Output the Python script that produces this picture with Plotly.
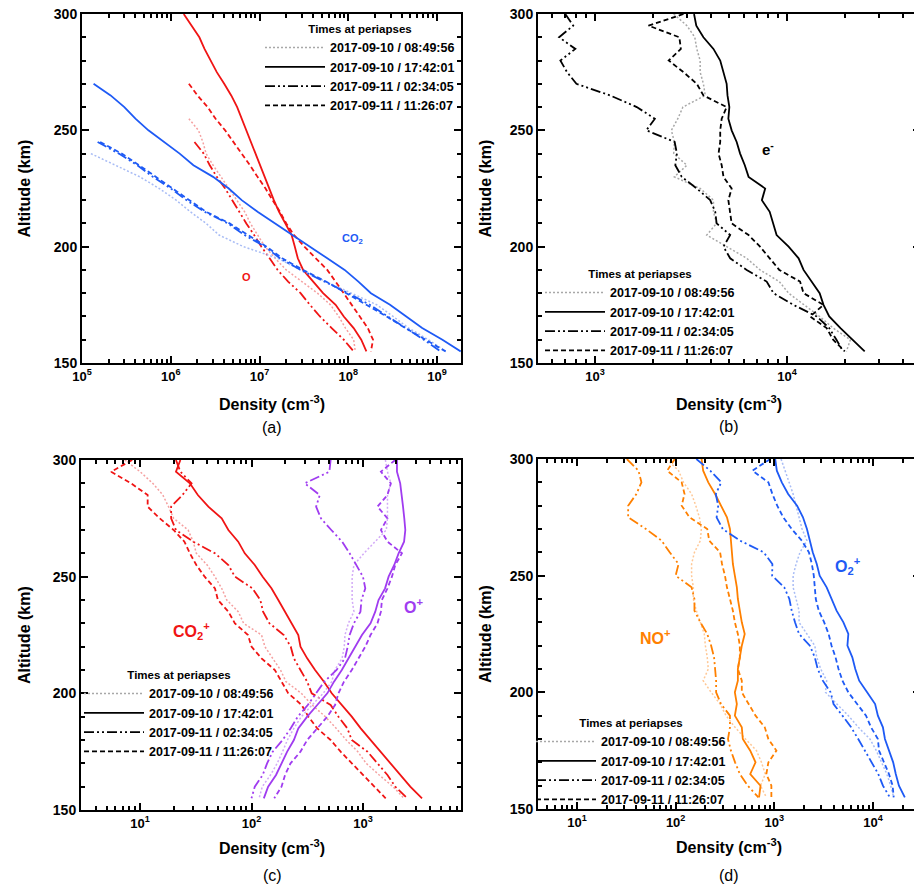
import plotly.graph_objects as go

# altitude grid (km), top to bottom
ALT = [300, 295, 290, 285, 280, 275, 270, 265, 260, 255, 250, 245, 240, 235, 230,
       225, 220, 215, 210, 205, 200, 195, 190, 185, 180, 175, 170, 165, 160, 155]

TIMES = ["2017-09-10 / 08:49:56", "2017-09-10 / 17:42:01",
         "2017-09-11 / 02:34:05", "2017-09-11 / 11:26:07"]

N = None
# (a) neutral densities, cm^-3
co2_0849 = [N, N, N, N, N, N, N, N, N, N, N, N, 1.26e5, 2.4e5, 4.5e5, 7.4e5, 1.15e6, 1.66e6,
            2.5e6, 3.5e6, 6.6e6, 1.6e7, 2.9e7, 5.6e7, 1.1e8, 2.1e8, 3.2e8, 4.8e8, 8.0e8, 1.25e9]
co2_1742 = [N, N, N, N, N, N, 1.35e5, 2.1e5, 3.0e5, 4.0e5, 5.6e5, 8.5e5, 1.26e6, 1.8e6, 3.0e6,
            4.5e6, 6.3e6, 9.5e6, 1.5e7, 2.4e7, 3.7e7, 5.8e7, 9.1e7, 1.3e8, 1.8e8, 2.95e8,
            4.5e8, 6.8e8, 1.15e9, 1.85e9]
co2_0234 = [N, N, N, N, N, N, N, N, N, N, N, 1.5e5, 2.6e5, 4.2e5, 6.3e5, 1.0e6, 1.5e6, 2.4e6,
            4.4e6, 6.8e6, 1.15e7, 1.7e7, 2.9e7, 5.4e7, 1.0e8, 1.75e8, 2.8e8, 4.5e8, 7.1e8, 1.1e9]
co2_1126 = [N, N, N, N, N, N, N, N, N, N, N, 1.6e5, 2.8e5, 4.4e5, 6.8e5, 1.05e6, 1.6e6, 2.5e6,
            4.6e6, 7.4e6, 1.2e7, 1.8e7, 3.1e7, 5.6e7, 9.5e7, 1.65e8, 2.7e8, 4.4e8, 7.4e8, 1.25e9]
o_0849 = [N, N, N, N, N, N, N, N, N, 1.6e6, 2.05e6, 2.3e6, 2.5e6, 3.0e6, 3.7e6, 4.5e6, 5.5e6,
          6.8e6, 7.9e6, 9.5e6, 1.15e7, 1.5e7, 2.0e7, 3.0e7, 4.5e7, 6.3e7, 7.8e7, 9.3e7, 1.15e8, 1.2e8]
o_1742 = [1.4e6, 1.7e6, 2.1e6, 2.4e6, 2.8e6, 3.3e6, 4.0e6, 4.8e6, 5.6e6, 6.3e6, 7.1e6, 8.1e6,
          9.1e6, 1.02e7, 1.15e7, 1.29e7, 1.45e7, 1.66e7, 1.95e7, 2.3e7, 2.5e7, 2.7e7, 3.1e7,
          4.0e7, 5.2e7, 7.2e7, 8.9e7, 1.15e8, 1.4e8, 1.6e8]
o_0234 = [N, N, N, N, N, N, N, N, N, N, N, 1.85e6, 2.35e6, 2.75e6, 3.3e6, 4.1e6, 4.9e6, 5.9e6,
          7.1e6, 8.7e6, 1.05e7, 1.3e7, 1.6e7, 2.1e7, 2.9e7, 3.7e7, 4.8e7, 6.5e7, 8.9e7, 1.15e8]
o_1126 = [N, N, N, N, N, N, 1.6e6, 2.0e6, 2.6e6, 3.2e6, 4.1e6, 5.1e6, 6.3e6, 7.8e6, 9.5e6,
          1.17e7, 1.4e7, 1.7e7, 2.0e7, 2.45e7, 3.2e7, 4.3e7, 5.8e7, 7.2e7, 8.9e7, 1.1e8, 1.35e8,
          1.66e8, 1.9e8, 1.8e8]

# (b) electrons
e_0849 = [2570, 3010, 3310, 3390, 3530, 3530, 3670, 3750, 2870, 2700, 2500, 2590, 2570, 3010,
          2590, 3530, 4140, 4140, 4300, 3820, 4850, 6170, 7240, 9120, 10200, 12200, 14800,
          17400, 21400, 20400]
e_1742 = [3280, 3370, 3670, 4140, 4490, 4670, 4850, 4900, 5010, 4950, 5150, 5470, 5700, 6030,
          6310, 7700, 7400, 8130, 8510, 8830, 10200, 11500, 12200, 13400, 14800, 15500, 16600,
          19000, 22100, 25400]
e_0234 = [700, 770, 650, 790, 660, 715, 800, 1200, 1650, 2050, 1850, 2600, 2670, 2620, 2830,
          3390, 3980, 4230, 4300, 5060, 4670, 5060, 6170, 7840, 8510, 10800, 14300, 16600,
          18100, 19600]
e_1126 = [2890, 1900, 2750, 2800, 2420, 2890, 3390, 3670, 4850, 4570, 4490, 4490, 4400, 4570,
          4670, 5150, 4950, 5050, 5150, 6310, 7240, 8130, 9120, 11700, 12200, 15500, 13200,
          16100, 17400, 20000]

# (c) CO2+ and O+
co2p_0849 = [7.3, 10, 13, 16, 18, 20, 27, 30, 32, 40, 47, 54, 60, 76, 85, 123, 132, 155, 182,
             204, 280, 350, 460, 575, 708, 900, 1070, 1400, 1860, 2340]
co2p_1742 = [23, 21, 28, 33, 41, 54, 62, 76, 87, 107, 126, 151, 174, 200, 229, 263, 275, 316,
             372, 447, 525, 646, 794, 955, 1175, 1445, 1780, 2160, 2660, 3390]
co2p_0234 = [21, 23, 29, 24, 19, 19, 21, 30, 47, 62, 71, 102, 120, 127, 145, 195, 225, 240,
             275, 316, 347, 513, 603, 724, 794, 1100, 1350, 1660, 1950, 2510]
co2p_1126 = [8.5, 5.5, 8.3, 11.7, 11.7, 15, 20, 25, 28, 32, 38, 47, 50, 62, 71, 93, 100, 123,
             162, 186, 214, 282, 324, 389, 513, 631, 794, 1020, 1260, 1600]
op_0849 = [1590, 1660, 1780, 1660, 1660, 1660, 1620, 1290, 1020, 830, 800, 800, 800, 830, 740,
           690, 680, 650, 560, 525, 440, 350, 280, 240, 210, 190, 170, 148, 125, 117]
op_1742 = [2020, 2020, 2160, 2240, 2290, 2350, 2400, 2340, 2090, 1910, 1700, 1580, 1380, 1290,
           1170, 980, 850, 740, 646, 550, 479, 389, 316, 263, 240, 209, 186, 166, 141, 129]
op_0234 = [513, 500, 300, 410, 380, 420, 520, 650, 760, 870, 1000, 1050, 970, 950, 830, 760,
           730, 690, 580, 450, 380, 320, 260, 225, 190, 155, 138, 126, 107, 100]
op_1126 = [1950, 1450, 1780, 1660, 1350, 1660, 1450, 1660, 2240, 1950, 1820, 1660, 1480, 1450,
           1350, 1170, 1050, 912, 794, 676, 603, 562, 479, 389, 316, 275, 224, 200, 186, 160]

# (d) NO+ and O2+
nop_0849 = [81, 107, 120, 145, 160, 174, 182, 178, 155, 145, 145, 151, 151, 162, 178, 195, 200,
            209, 214, 190, 229, 282, 324, 400, 510, 660, 740, 810, 724, 830]
nop_1742 = [183, 190, 214, 251, 288, 331, 355, 363, 372, 380, 398, 417, 427, 447, 468, 501, 468,
            447, 427, 427, 398, 417, 398, 468, 479, 570, 645, 570, 724, 700]
nop_0234 = [32, 42, 45, 40, 33, 33, 50, 72, 87, 107, 100, 145, 155, 155, 178, 209, 229, 245,
            251, 257, 257, 288, 355, 355, 339, 363, 400, 447, 537, 690]
nop_1126 = [98, 82, 115, 123, 115, 138, 209, 219, 282, 295, 316, 331, 355, 380, 398, 427, 447,
            447, 427, 468, 468, 550, 645, 800, 870, 1050, 870, 830, 933, 933]
o2p_0849 = [1170, 1290, 1410, 1550, 1660, 1780, 1910, 2140, 1820, 1660, 1550, 1550, 1660, 1780,
            1780, 2140, 2570, 2690, 2950, 3390, 3300, 4300, 5620, 7100, 9300, 10800, 12300,
            13800, 15100, 16200]
o2p_1742 = [1020, 1060, 1190, 1380, 1700, 1950, 2140, 2290, 2450, 2690, 2880, 3390, 3800, 4270,
            5010, 5620, 5500, 6170, 6610, 7240, 8710, 10500, 11200, 12600, 13200, 14500, 16000,
            17000, 18300, 21000]
o2p_0234 = [162, 224, 290, 255, 270, 260, 300, 450, 780, 955, 950, 1260, 1420, 1500, 1620, 1780,
            2290, 2570, 2750, 3100, 3720, 3980, 4900, 6000, 7080, 8300, 9800, 11300, 12600, 14800]
o2p_1126 = [910, 600, 870, 955, 1070, 1230, 1500, 1900, 2240, 2400, 2510, 2570, 2630, 2820,
            3200, 3550, 3800, 4170, 4470, 4900, 5620, 6900, 8500, 9550, 11200, 11500, 12900,
            14500, 15800, 16200]

# line style for each periapsis time
DASHES = ["2px,2px", "solid", "10px,3px,2px,3px,2px,3px", "5px,3px"]
WIDTHS = [1.5, 1.8, 1.8, 1.8]

RED, RED_L = "#f01414", "#f5a0a0"
BLUE, BLUE_L = "#1e5af5", "#a8bcf5"
PURPLE, PURPLE_L = "#a03cf0", "#d2aaf7"
ORANGE, ORANGE_L = "#ff8000", "#ffc896"
BLACK, GRAY = "black", "#a8a8a8"

fig = go.Figure()


def add_species(profiles, color, light, ax):
    for i, dens in enumerate(profiles):
        fig.add_trace(go.Scatter(
            x=dens, y=ALT, mode="lines", showlegend=False, hoverinfo="skip",
            line=dict(color=light if i == 0 else color, width=WIDTHS[i], dash=DASHES[i]),
            xaxis="x" + ax, yaxis="y" + ax,
        ))


add_species([o_0849, o_1742, o_0234, o_1126], RED, RED_L, "")
add_species([co2_0849, co2_1742, co2_0234, co2_1126], BLUE, BLUE_L, "")
add_species([e_0849, e_1742, e_0234, e_1126], BLACK, GRAY, "2")
add_species([co2p_0849, co2p_1742, co2p_0234, co2p_1126], RED, RED_L, "3")
add_species([op_0849, op_1742, op_0234, op_1126], PURPLE, PURPLE_L, "3")
add_species([nop_0849, nop_1742, nop_0234, nop_1126], ORANGE, ORANGE_L, "4")
add_species([o2p_0849, o2p_1742, o2p_0234, o2p_1126], BLUE, BLUE_L, "4")

# legend entries (black samples) for every panel
for k, ax in enumerate(["", "2", "3", "4"]):
    for i, name in enumerate(TIMES):
        fig.add_trace(go.Scatter(
            x=[None], y=[None], mode="lines", name=name,
            line=dict(color=GRAY if i == 0 else BLACK, width=WIDTHS[i], dash=DASHES[i]),
            xaxis="x" + ax, yaxis="y" + ax,
            legend="legend" if k == 0 else "legend%d" % (k + 1),
        ))

# the page body adds an 8px margin, so the figure is shrunk by it and
# the screen-pixel positions below are shifted back by the same amount
OFF = 8
W, H = 922 - OFF, 886 - OFF


def px(x):
    return (x - OFF) / W


def py(y):
    return 1 - (y - OFF) / H


xdom = {"": [82, 461], "2": [538, 920], "3": [81, 461], "4": [538, 920]}
ydom = {"": [14, 363], "2": [14, 363], "3": [460, 810], "4": [459, 809]}
xrng = {"": [5, 9.27], "2": [2.703, 4.693], "3": [0.47, 3.88], "4": [0.605, 4.476]}
decades = {"": [5, 6, 7, 8, 9], "2": [3, 4], "3": [1, 2, 3], "4": [1, 2, 3, 4]}

axis_common = dict(
    showline=True, linewidth=2, linecolor="black", mirror="allticks",
    ticks="inside", ticklen=7, tickwidth=1.5, tickcolor="black",
    showgrid=False, zeroline=False, ticklabeloverflow="allow",
)
layout_axes = {}
for ax in ["", "2", "3", "4"]:
    lo, hi = int(xrng[ax][0]) - 1, int(xrng[ax][1]) + 1
    minor_vals = [m * 10 ** p for p in range(lo, hi + 1) for m in range(2, 10)]
    layout_axes["xaxis" + ax] = dict(
        axis_common, type="log", range=xrng[ax], tickfont=dict(size=13),
        tickmode="array", tickvals=[10 ** p for p in decades[ax]],
        ticktext=["10<sup>%d</sup>" % p for p in decades[ax]],
        domain=[px(xdom[ax][0]), px(xdom[ax][1])], anchor="y" + ax,
        minor=dict(tickmode="array", tickvals=minor_vals, ticks="inside", ticklen=4,
                   tickcolor="black", showgrid=False),
    )
    layout_axes["yaxis" + ax] = dict(
        axis_common, range=[150, 300], tick0=150, dtick=50, tickfont=dict(size=14),
        domain=[py(ydom[ax][1]), py(ydom[ax][0])], anchor="x" + ax,
        minor=dict(dtick=10, ticks="inside", ticklen=4, tickcolor="black", showgrid=False),
    )


def legend_at(x, y):
    # y is the vertical middle of the legend block
    return dict(
        x=px(x), y=py(y), xanchor="left", yanchor="middle",
        bgcolor="rgba(0,0,0,0)", font=dict(size=12.5), itemwidth=60,
        title=dict(text="Times at periapses", side="top center", font=dict(size=11.5)),
    )


annotations = []
# axis titles and panel letters
for ax, xt, yt, letter_y, letter in [("", 272, 403, 428, "(a)"), ("2", 729, 403, 426, "(b)"),
                                     ("3", 272, 847, 875, "(c)"), ("4", 729, 846, 875, "(d)")]:
    annotations.append(dict(text="Density (cm<sup>-3</sup>)", x=px(xt), y=py(yt),
                            xref="paper", yref="paper", xanchor="center", yanchor="middle",
                            showarrow=False, font=dict(size=16)))
    annotations.append(dict(text=letter, x=px(xt), y=py(letter_y), xref="paper",
                            yref="paper", xanchor="center", yanchor="middle", showarrow=False,
                            font=dict(size=16, weight="normal")))
    yc = sum(ydom[ax]) / 2
    xl = 24 if ax in ("", "3") else 485
    annotations.append(dict(text="Altitude (km)", x=px(xl), y=py(yc), xref="paper",
                            yref="paper", xanchor="center", yanchor="middle", textangle=-90,
                            showarrow=False, font=dict(size=16)))

# species labels (data coordinates, log axes use log10 values)
for text, ax, lx, ly, color, size in [
    ("CO<sub>2</sub>", "", 8.05, 203.4, BLUE, 11),
    ("O", "", 6.85, 187.1, RED, 11),
    ("e<sup>-</sup>", "2", 3.9, 242.4, BLACK, 15),
    ("CO<sub>2</sub><sup>+</sup>", "3", 1.46, 226.7, RED, 16),
    ("O<sup>+</sup>", "3", 3.45, 237.4, PURPLE, 16),
    ("NO<sup>+</sup>", "4", 1.80, 223.6, ORANGE, 16),
    ("O<sub>2</sub><sup>+</sup>", "4", 3.75, 254.1, BLUE, 16),
]:
    annotations.append(dict(text=text, x=lx, y=ly, xref="x" + ax, yref="y" + ax,
                            showarrow=False, font=dict(size=size, color=color)))

fig.update_layout(
    width=W, height=H, margin=dict(l=0, r=0, t=0, b=0, autoexpand=False),
    paper_bgcolor="white", plot_bgcolor="white",
    font=dict(family="Liberation Sans, Arial, sans-serif", color="black", weight="bold"),
    legend=legend_at(260, 69),
    legend2=legend_at(540, 314),
    legend3=legend_at(79, 715),
    legend4=legend_at(531, 763),
    annotations=annotations,
    **layout_axes,
)

fig.write_html("out.html")
